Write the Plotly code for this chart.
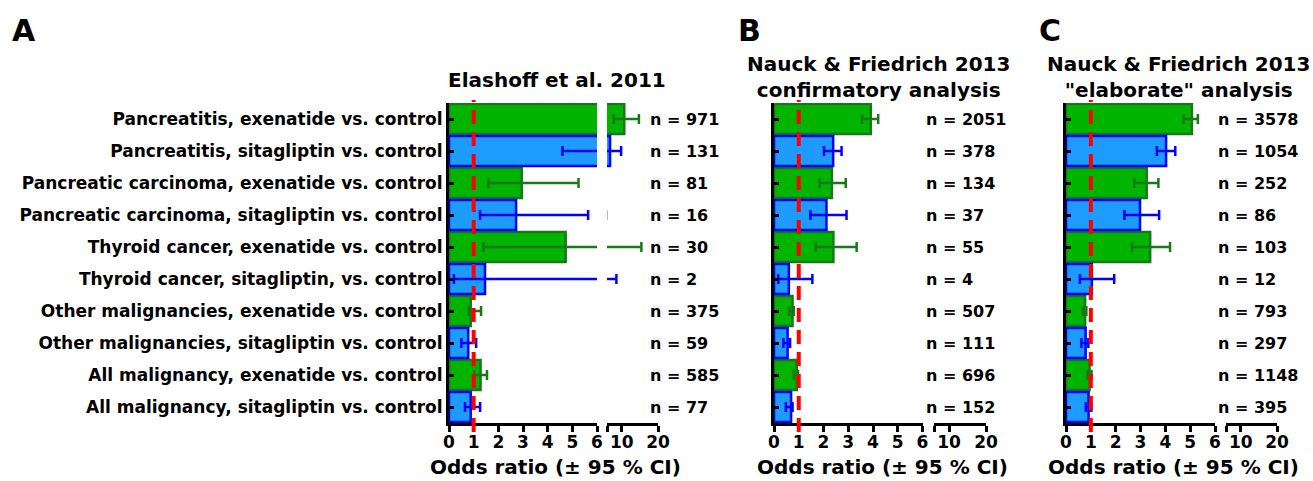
import plotly.graph_objects as go

# ---------------- data ----------------
categories = [
    "Pancreatitis, exenatide vs. control",
    "Pancreatitis, sitagliptin vs. control",
    "Pancreatic carcinoma, exenatide vs. control",
    "Pancreatic carcinoma, sitagliptin vs. control",
    "Thyroid cancer, exenatide vs. control",
    "Thyroid cancer, sitagliptin, vs. control",
    "Other malignancies, exenatide vs. control",
    "Other malignancies, sitagliptin vs. control",
    "All malignancy, exenatide vs. control",
    "All malignancy, sitagliptin vs. control",
]
exen_cats = categories[0::2]
sita_cats = categories[1::2]

# Panel A: Elashoff et al. 2011
a_exen_or = [10.68, 2.95, 4.73, 0.88, 1.28]
a_exen_lo = [7.75, 1.60, 1.40, 0.80, 1.03]
a_exen_hi = [14.72, 5.25, 15.4, 1.30, 1.54]
a_sita_or = [6.74, 2.72, 1.46, 0.78, 0.88]
a_sita_lo = [4.60, 1.26, 0.20, 0.50, 0.65]
a_sita_hi = [9.80, 5.64, 8.50, 1.10, 1.26]
a_n = [971, 131, 81, 16, 30, 2, 375, 59, 585, 77]

# Panel B: Nauck & Friedrich 2013 confirmatory analysis
b_exen_or = [3.91, 2.34, 2.40, 0.75, 0.92]
b_exen_lo = [3.56, 1.85, 1.69, 0.62, 0.80]
b_exen_hi = [4.21, 2.90, 3.34, 0.80, 0.97]
b_sita_or = [2.39, 2.12, 0.60, 0.55, 0.69]
b_sita_lo = [2.02, 1.47, 0.17, 0.38, 0.48]
b_sita_hi = [2.73, 2.93, 1.55, 0.65, 0.75]
b_n = [2051, 378, 134, 37, 55, 4, 507, 111, 696, 152]

# Panel C: Nauck & Friedrich 2013 "elaborate" analysis
c_exen_or = [5.07, 3.25, 3.39, 0.77, 0.95]
c_exen_lo = [4.73, 2.75, 2.66, 0.68, 0.87]
c_exen_hi = [5.31, 3.72, 4.19, 0.82, 1.03]
c_sita_or = [4.03, 2.98, 1.04, 0.79, 0.91]
c_sita_lo = [3.66, 2.35, 0.56, 0.62, 0.80]
c_sita_hi = [4.40, 3.75, 1.94, 0.90, 1.02]
c_n = [3578, 1054, 252, 86, 103, 12, 793, 297, 1148, 395]

seg1_ticks = [0, 1, 2, 3, 4, 5, 6]
seg2_ticks = [10, 20]
seg2_start = 5.9

# ---------------- style ----------------
W, H = 1313, 481
FONT = "DejaVu Sans"
GREEN_FILL = "rgb(0,180,0)"
GREEN_LINE = "rgb(25,120,25)"
BLUE_FILL = "rgb(30,155,255)"
BLUE_LINE = "rgb(0,0,255)"

def px(x):
    return x / W

def py(y):
    return 1 - y / H

ydom = [py(423), py(103)]

panels = [
    dict(letter="A", title="Elashoff et al. 2011",
         eo=a_exen_or, el=a_exen_lo, eh=a_exen_hi,
         so=a_sita_or, sl=a_sita_lo, sh=a_sita_hi, n=a_n,
         seg1=(449, 597), seg2=(607, 658), letter_x=10, n_x=648, title_x=557,
         title_y=94),
    dict(letter="B", title="Nauck & Friedrich 2013<br>confirmatory analysis",
         eo=b_exen_or, el=b_exen_lo, eh=b_exen_hi,
         so=b_sita_or, sl=b_sita_lo, sh=b_sita_hi, n=b_n,
         seg1=(774, 922.5), seg2=(934, 986), letter_x=736, n_x=924, title_x=878,
         title_y=104),
    dict(letter="C", title="Nauck & Friedrich 2013<br>\"elaborate\" analysis",
         eo=c_exen_or, el=c_exen_lo, eh=c_exen_hi,
         so=c_sita_or, sl=c_sita_lo, sh=c_sita_hi, n=c_n,
         seg1=(1066, 1215), seg2=(1226, 1277), letter_x=1037, n_x=1216, title_x=1178,
         title_y=104),
]

fig = go.Figure()
layout = dict(
    template="none",
    width=W, height=H,
    margin=dict(l=0, r=0, t=0, b=0, pad=0, autoexpand=False),
    paper_bgcolor="white", plot_bgcolor="white",
    showlegend=False, barmode="overlay", bargap=0.06,
    font=dict(family=FONT, color="black", weight="bold"),
)
annotations = []
shapes = []

for i, p in enumerate(panels):
    xa1 = "x" if i == 0 else f"x{2 * i + 1}"
    xa2 = f"x{2 * i + 2}"
    ya = "y" if i == 0 else f"y{i + 1}"
    xk1 = "xaxis" if i == 0 else f"xaxis{2 * i + 1}"
    xk2 = f"xaxis{2 * i + 2}"
    yk = "yaxis" if i == 0 else f"yaxis{i + 1}"

    for xa in (xa1, xa2):
        for cats, o, lo, hi, fill, line in (
            (exen_cats, p["eo"], p["el"], p["eh"], GREEN_FILL, GREEN_LINE),
            (sita_cats, p["so"], p["sl"], p["sh"], BLUE_FILL, BLUE_LINE),
        ):
            fig.add_trace(go.Bar(
                x=o, y=cats, orientation="h", xaxis=xa, yaxis=ya,
                marker=dict(color=fill, line=dict(color=line, width=2.5)),
                error_x=dict(type="data", symmetric=False,
                             array=[h - v for h, v in zip(hi, o)],
                             arrayminus=[v - l for v, l in zip(o, lo)],
                             color=line, thickness=2.5, width=5),
                hoverinfo="skip",
            ))

    axis_common = dict(
        showline=True, linecolor="black", linewidth=3,
        ticks="outside", ticklen=6, tickwidth=2.5, tickcolor="black",
        tickfont=dict(family=FONT, size=17, color="black", weight="bold"),
        ticklabelstandoff=-4, automargin=False,
        showgrid=False, zeroline=False, fixedrange=True,
    )
    layout[xk1] = dict(axis_common, domain=[px(p["seg1"][0]), px(p["seg1"][1])],
                       range=[0, 6], tickvals=seg1_ticks, anchor=ya)
    layout[xk2] = dict(axis_common, domain=[px(p["seg2"][0]), px(p["seg2"][1])],
                       range=[seg2_start, 20],
                       tickvals=[seg2_start] + seg2_ticks,
                       ticktext=[""] + [str(t) for t in seg2_ticks], anchor=ya)
    layout[yk] = dict(
        domain=ydom, anchor=xa1, type="category", automargin=False,
        categoryorder="array", categoryarray=categories, autorange="reversed",
        showline=True, linecolor="black", linewidth=3,
        ticks="inside", ticklen=5, tickwidth=2.5, tickcolor="black",
        showticklabels=(i == 0), layer="above traces",
        tickfont=dict(family=FONT, size=17, color="black", weight="bold"),
        showgrid=False, zeroline=False, fixedrange=True,
    )

    # red dashed reference line at OR = 1
    shapes.append(dict(type="line", xref=xa1, yref="paper", x0=1, x1=1,
                       y0=py(432), y1=py(100),
                       line=dict(color="rgb(255,0,0)", width=4, dash="14px,8px")))

    # n labels
    for cat, nv in zip(categories, p["n"]):
        annotations.append(dict(xref="paper", yref=ya, x=px(p["n_x"]), y=cat,
                                text=f"n = {nv}", showarrow=False, xanchor="left",
                                font=dict(family=FONT, size=16, weight="bold")))
    # panel title
    annotations.append(dict(xref="paper", yref="paper", x=px(p["title_x"]),
                            y=py(p["title_y"]), yanchor="bottom", text=p["title"],
                            showarrow=False, xanchor="center",
                            font=dict(family=FONT, size=20, weight="bold")))
    # panel letter
    annotations.append(dict(xref="paper", yref="paper", x=px(p["letter_x"]),
                            y=py(30), text=p["letter"], showarrow=False,
                            xanchor="left", yanchor="middle",
                            font=dict(family=FONT, size=30, weight="bold")))
    # x-axis title
    cx = (p["seg1"][0] + p["seg2"][1]) / 2 + 2
    annotations.append(dict(xref="paper", yref="paper", x=px(cx), y=py(467),
                            text="Odds ratio (± 95 % CI)", showarrow=False,
                            xanchor="center", yanchor="middle",
                            font=dict(family=FONT, size=20, weight="bold")))

layout["annotations"] = annotations
layout["shapes"] = shapes
fig.update_layout(**layout)
fig.write_html("out.html",
               config={"displayModeBar": False},
               post_script="document.body.style.margin='0px';"
                           "document.body.style.overflow='hidden';")
